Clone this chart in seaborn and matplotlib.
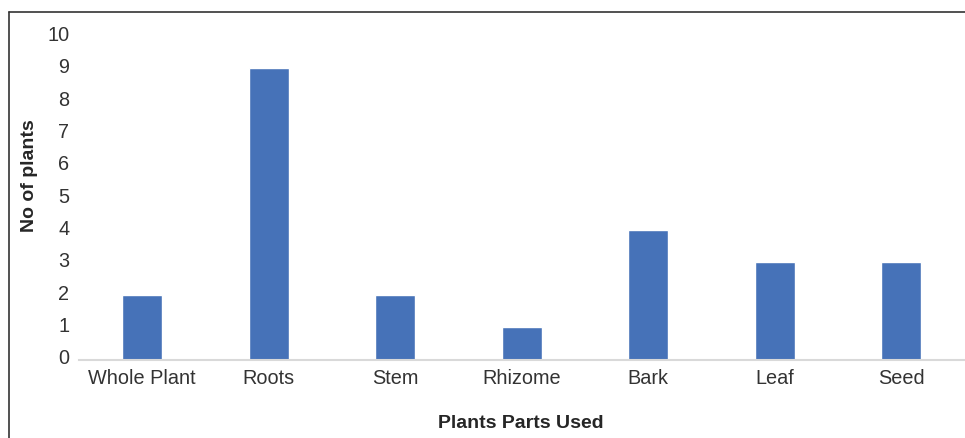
import matplotlib
matplotlib.use("Agg")
import matplotlib.pyplot as plt
import matplotlib.transforms as mtransforms
from matplotlib.lines import Line2D
import seaborn as sns
import pandas as pd

parts = ["Whole Plant", "Roots", "Stem", "Rhizome", "Bark", "Leaf", "Seed"]
counts = [2, 9, 2, 1, 4, 3, 3]
y_ticks = list(range(0, 11))

sns.set_theme(style="white")
plt.rcParams["font.family"] = ["Liberation Sans", "DejaVu Sans"]

W, H = 965, 439
fig = plt.figure(figsize=(W / 100, H / 100), dpi=100)
ax = fig.add_axes([79 / W, 1 - 360.5 / H, (964.5 - 79) / W, (360.5 - 37) / H])

df = pd.DataFrame({"part": parts, "count": counts})
sns.barplot(data=df, x="part", y="count", color="#4672B8", width=0.316,
            saturation=1, ax=ax)

ax.set_ylim(0, 10)
ax.set_xlim(-0.5, len(parts) - 0.5)
ax.set_yticks(y_ticks)
ax.tick_params(axis="both", length=0, labelsize=14.3, colors="#333333")
ax.tick_params(axis="y", pad=7)
ax.tick_params(axis="x", pad=6)
# value labels sit slightly above their gridline positions
shift = mtransforms.ScaledTranslation(0, 3.5 / 100, fig.dpi_scale_trans)
for lbl in ax.get_yticklabels():
    lbl.set_transform(lbl.get_transform() + shift)
for s in ["top", "right", "left"]:
    ax.spines[s].set_visible(False)
ax.spines["bottom"].set_color("#D9D9D9")
ax.spines["bottom"].set_linewidth(1.5)
ax.set_xlabel("")
ax.set_ylabel("")

fig.text(521 / W, 1 - 424 / H, "Plants Parts Used", ha="center", va="center",
         fontsize=14, fontweight="bold", color="#262626")
fig.text(30 / W, 1 - 176 / H, "No of plants", ha="center", va="center",
         rotation=90, fontsize=14, fontweight="bold", color="#262626")

# outer frame lines (left and top)
fig.add_artist(Line2D([9 / W, 9 / W], [0, 1 - 13 / H], color="#333333", lw=1.2))
fig.add_artist(Line2D([9 / W, 1], [1 - 13 / H, 1 - 13 / H], color="#333333", lw=1.2))

fig.savefig("out.png", dpi=100)
